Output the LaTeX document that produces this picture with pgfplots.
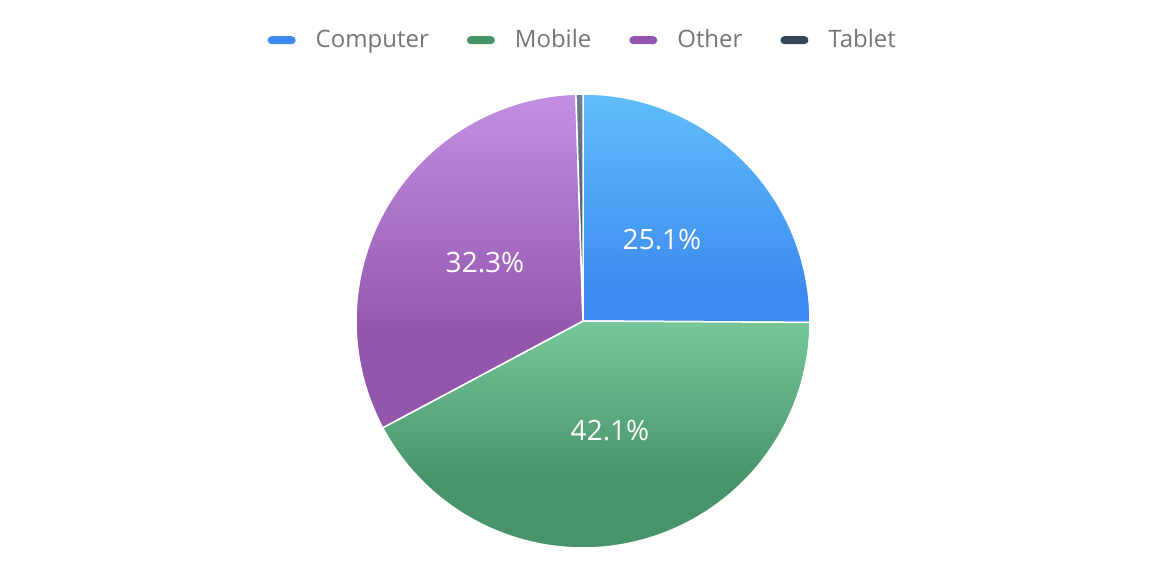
\documentclass[border=0pt]{standalone}
\usepackage{pgfplots}
\pgfplotsset{compat=1.18}
\usepackage{fontspec}
\setmainfont{Open Sans}
\definecolor{cblue}{HTML}{3D8BF0}
\definecolor{cbluetop}{HTML}{60BEFA}
\definecolor{cgreen}{HTML}{48946A}
\definecolor{cgreentop}{HTML}{76C79A}
\definecolor{cpurple}{HTML}{9257AD}
\definecolor{cpurpletop}{HTML}{C48FE3}
\definecolor{cdark}{HTML}{34465B}
\definecolor{cdarktop}{HTML}{6E7F93}
\definecolor{tgray}{HTML}{757575}
\pgfdeclareverticalshading{blueshade}{100bp}{color(0bp)=(cblue); color(32bp)=(cblue); color(75bp)=(cbluetop); color(100bp)=(cbluetop)}
\pgfdeclareverticalshading{greenshade}{100bp}{color(0bp)=(cgreen); color(40bp)=(cgreen); color(75bp)=(cgreentop); color(100bp)=(cgreentop)}
\pgfdeclareverticalshading{purpleshade}{100bp}{color(0bp)=(cpurple); color(39bp)=(cpurple); color(75bp)=(cpurpletop); color(100bp)=(cpurpletop)}
\pgfdeclareverticalshading{darkshade}{100bp}{color(0bp)=(cdark); color(25bp)=(cdark); color(75bp)=(cdarktop); color(100bp)=(cdarktop)}
\begin{document}
\begin{tikzpicture}
\begin{axis}[
  scale only axis, width=578pt, height=283pt,
  xmin=0, xmax=1156, ymin=0, ymax=566,
  hide axis, clip=false,
  legend columns=4,
  legend image code/.code={\fill[#1, draw=none, rounded corners=2pt] (0pt,-2pt) rectangle (14pt,2pt);},
  legend style={draw=none, fill=none, at={(axis description cs:0.505,0.929)}, anchor=center,
    font=\fontsize{12}{14}\selectfont, text=tgray,
    /tikz/every odd column/.append style={column sep=8pt},
    /tikz/every even column/.append style={column sep=17pt}},
  legend cell align=left,
]
\path (axis cs:0,0) rectangle (axis cs:1156,566);
% Computer 25.1%
\addplot[forget plot, shading=blueshade, draw=white, line width=0.75pt,
  domain=-0.36:90, samples=90, variable=\t] ({583+227*cos(t)},{245+227*sin(t)}) -- (axis cs:583,245) -- cycle;
% Mobile 42.1%
\addplot[forget plot, shading=greenshade, draw=white, line width=0.75pt,
  domain=-151.92:-0.36, samples=120, variable=\t] ({583+227*cos(t)},{245+227*sin(t)}) -- (axis cs:583,245) -- cycle;
% Other 32.3%
\addplot[forget plot, shading=purpleshade, draw=white, line width=0.75pt,
  domain=-268.2:-151.92, samples=100, variable=\t] ({583+227*cos(t)},{245+227*sin(t)}) -- (axis cs:583,245) -- cycle;
% Tablet 0.5%
\addplot[forget plot, shading=darkshade, draw=white, line width=0.75pt,
  domain=-270:-268.2, samples=5, variable=\t] ({583+227*cos(t)},{245+227*sin(t)}) -- (axis cs:583,245) -- cycle;
\addlegendimage{fill=cblue}\addlegendentry{Computer}
\addlegendimage{fill=cgreen}\addlegendentry{Mobile}
\addlegendimage{fill=cpurple}\addlegendentry{Other}
\addlegendimage{fill=cdark}\addlegendentry{Tablet}
\node[text=white, font=\fontsize{14}{16}\selectfont] at (axis cs:662,326) {25.1\%};
\node[text=white, font=\fontsize{14}{16}\selectfont] at (axis cs:610,135) {42.1\%};
\node[text=white, font=\fontsize{14}{16}\selectfont] at (axis cs:485,303) {32.3\%};
\end{axis}
\end{tikzpicture}
\end{document}
